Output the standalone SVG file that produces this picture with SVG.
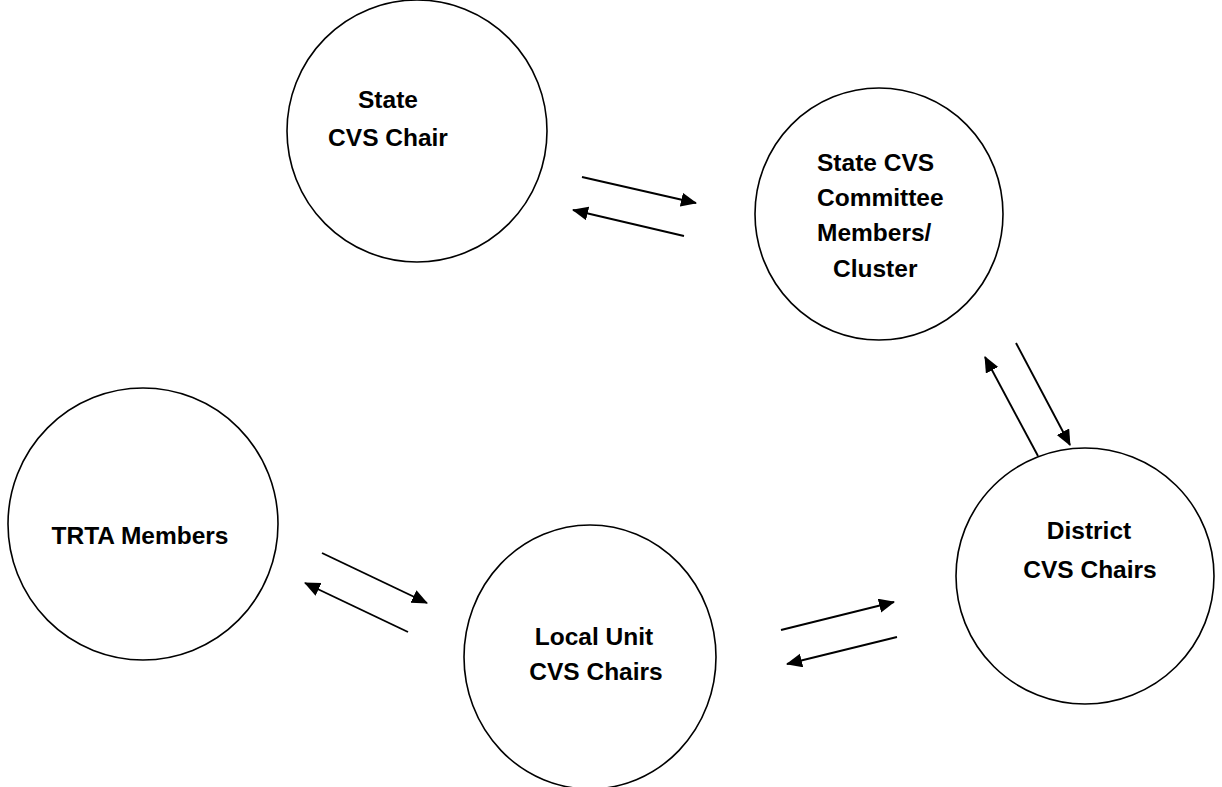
<svg xmlns="http://www.w3.org/2000/svg" width="1222" height="787" viewBox="0 0 1222 787">
<style>
.node{fill:#fff;stroke:#000;stroke-width:1.6}
.lbl{font-family:"Liberation Sans",Arial,sans-serif;font-weight:bold;font-size:24.5px;fill:#000}
.c{stroke:#000;stroke-width:1.9;fill:none;marker-end:url(#ah)}
</style>
<defs>
<marker id="ah" markerUnits="userSpaceOnUse" markerWidth="18" markerHeight="16" refX="15" refY="7" orient="auto">
<path d="M0,0 L16,7 L0,14 z" fill="#000"/>
</marker>
</defs>
<rect width="1222" height="787" fill="#fff"/>
<g id="n-state-chair">
<ellipse class="node" cx="417" cy="131" rx="130" ry="131"/>
<text class="lbl" x="388" y="108" text-anchor="middle">State</text>
<text class="lbl" x="388" y="146" text-anchor="middle">CVS Chair</text>
</g>
<g id="n-committee">
<ellipse class="node" cx="879" cy="214" rx="124" ry="126"/>
<text class="lbl" x="817" y="171">State CVS</text>
<text class="lbl" x="817" y="206">Committee</text>
<text class="lbl" x="817" y="241">Members/</text>
<text class="lbl" x="833" y="277">Cluster</text>
</g>
<g id="n-trta">
<ellipse class="node" cx="143" cy="524" rx="135" ry="136"/>
<text class="lbl" x="140" y="544" text-anchor="middle">TRTA Members</text>
</g>
<g id="n-local">
<ellipse class="node" cx="590" cy="657" rx="126" ry="132"/>
<text class="lbl" x="594" y="645" text-anchor="middle">Local Unit</text>
<text class="lbl" x="596" y="680" text-anchor="middle">CVS Chairs</text>
</g>
<g id="n-district">
<ellipse class="node" cx="1085" cy="576" rx="129" ry="128"/>
<text class="lbl" x="1089" y="539" text-anchor="middle">District</text>
<text class="lbl" x="1090" y="578" text-anchor="middle">CVS Chairs</text>
</g>
<g id="connectors">
<line class="c" x1="582" y1="177" x2="696" y2="203"/>
<line class="c" x1="684" y1="236" x2="573" y2="210"/>
<line class="c" x1="1016" y1="343" x2="1070" y2="445"/>
<line class="c" x1="1038" y1="456" x2="985" y2="357"/>
<line class="c" x1="322" y1="553" x2="427" y2="603"/>
<line class="c" x1="408" y1="632" x2="305" y2="583"/>
<line class="c" x1="781" y1="630" x2="894" y2="602"/>
<line class="c" x1="897" y1="637" x2="787" y2="664"/>
</g>
</svg>
